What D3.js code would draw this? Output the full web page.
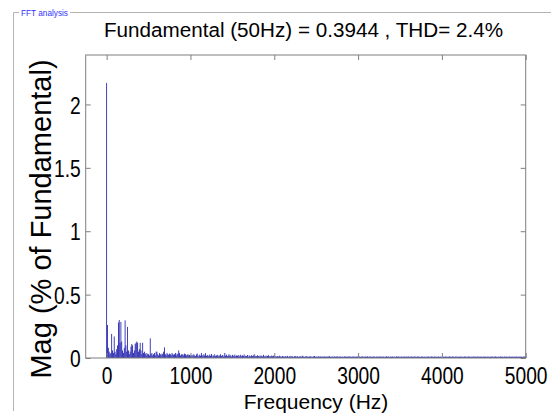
<!DOCTYPE html>
<html><head><meta charset="utf-8">
<script src="https://cdn.jsdelivr.net/npm/d3@7"></script>
<style>
body{margin:0;background:#fff}
svg{display:block}
text{font-family:"Liberation Sans",Arial,Helvetica,sans-serif;fill:#000}
</style></head>
<body><svg id="c" width="554" height="416"></svg>
<script>
// ---- data ----
const titleText = "Fundamental (50Hz) = 0.3944 , THD= 2.4%";
const panelTitle = "FFT analysis";
const xLabel = "Frequency (Hz)";
const yLabel = "Mag (% of Fundamental)";
const xTicks = [0, 1000, 2000, 3000, 4000, 5000];
const yTicks = [0, 0.5, 1, 1.5, 2];
const yTickLabels = ["0", "0.5", "1", "1.5", "2"];
const freqStep = 10; // Hz between spectrum bins
// magnitude (% of fundamental), bins 0, 10, 20 ... 5000 Hz
const mag = [
 2.17,.26,.08,.05,.03,.04,.19,.06,.04,.17,
 .05,.03,.07,.10,.28,.30,.12,.285,.13,.06,
 .04,.08,.297,.10,.05,.245,.06,.03,.05,.09,
 .11,.10,.04,.06,.11,.12,.13,.12,.05,.07,
 .12,.06,.03,.12,.04,.05,.03,.04,.02,.035,
 .03,.02,.155,.03,.04,.02,.03,.04,.02,.05,
 .05,.03,.02,.04,.03,.02,.035,.03,.05,.084,
 .03,.02,.04,.03,.025,.035,.03,.02,.04,.03,
 .025,.03,.04,.02,.035,.03,.06,.04,.02,.03,
 .025,.03,.02,.035,.03,.02,.025,.03,.02,.025,
 .02,
 .018,.025,.012,.03,.02,.015,.028,.035,.02,.012,.026,.018,.04,.022,.015,.03,.02,.038,.016,.024,
 .02,.014,.027,.018,.032,.012,.022,.017,.029,.015,.02,.025,.013,.021,.018,.03,.016,.024,.012,.02,
 .04,.018,.026,.014,.02,.03,.016,.022,.012,.025,.019,.015,.027,.013,.02,.017,.023,.011,.019,.026,
 .014,.021,.016,.028,.012,.018,.015,.024,.01,.02,.017,.013,.022,.015,.019,.03,.012,.018,.014,.021,
 .016,.011,.02,.014,.018,.012,.025,.015,.01,.019,.013,.017,.022,.012,.016,.011,.02,.014,.018,.013,
 .012,.016,.01,.015,.012,.018,.011,.014,.009,.016,.012,.01,.015,.013,.011,.017,.009,.013,.012,.015,
 .011,.014,.009,.013,.016,.01,.012,.015,.009,.011,.014,.01,.013,.018,.011,.009,.012,.015,.01,.013,
 .009,.012,.014,.01,.011,.009,.013,.016,.01,.012,.009,.011,.014,.01,.012,.009,.013,.011,.01,.012,
 .011,.009,.013,.01,.012,.015,.009,.011,.01,.013,.009,.012,.01,.011,.014,.009,.01,.012,.011,.009,
 .012,.01,.009,.013,.011,.01,.012,.009,.014,.01,.011,.009,.012,.01,.013,.009,.011,.01,.012,.009,
 .01,.012,.009,.011,.013,.01,.009,.012,.011,.01,.014,.009,.011,.01,.012,.009,.01,.013,.01,.011,
 .009,.011,.01,.012,.009,.013,.01,.011,.009,.012,.01,.009,.011,.013,.01,.012,.009,.01,.011,.01,
 .012,.009,.011,.01,.009,.013,.01,.012,.011,.009,.01,.012,.009,.011,.01,.013,.009,.011,.01,.012,
 .01,.009,.012,.011,.01,.009,.013,.01,.011,.009,.012,.01,.011,.009,.01,.012,.011,.009,.01,.011,
 .009,.011,.01,.012,.009,.01,.011,.013,.01,.009,.012,.01,.011,.009,.01,.012,.009,.011,.01,.009,
 .011,.01,.009,.012,.01,.011,.009,.01,.012,.011,.009,.01,.013,.01,.009,.011,.01,.012,.009,.01,
 .01,.012,.009,.011,.01,.009,.012,.01,.011,.009,.01,.012,.011,.009,.01,.011,.009,.012,.01,.011,
 .009,.01,.012,.011,.009,.01,.011,.01,.009,.012,.01,.011,.009,.01,.012,.01,.009,.011,.01,.012,
 .01,.009,.011,.012,.01,.009,.01,.011,.009,.012,.01,.011,.01,.009,.012,.01,.011,.009,.01,.011,
 .012,.009,.01,.011,.01,.009,.012,.01,.011,.009,.01,.012,.009,.011,.01,.009,.011,.01,.012,.01
];
const bins = mag.map((v, i) => ({f: i * freqStep, v}));

// ---- layout ----
const svg = d3.select("#c");
const L = 85.7, R = 525.7, T = 55, B = 358;
const x = d3.scaleLinear().domain([-250, 5000]).range([L, R]);
const y = d3.scaleLinear().domain([0, 2.39]).range([B, T]);

svg.append("rect").attr("width", 554).attr("height", 416).attr("fill", "#fff");

// panel frame
const frame = "#b4b4b4";
svg.append("line").attr("x1", 13.5).attr("x2", 13.5).attr("y1", 12.5).attr("y2", 411).attr("stroke", frame);
svg.append("line").attr("x1", 13.5).attr("x2", 19).attr("y1", 12.5).attr("y2", 12.5).attr("stroke", frame);
svg.append("line").attr("x1", 70).attr("x2", 551).attr("y1", 12.5).attr("y2", 12.5).attr("stroke", frame);
svg.append("text").attr("x", 21).attr("y", 15.5).attr("textLength", 47).attr("lengthAdjust", "spacingAndGlyphs")
  .style("font-size", "9px").style("fill", "#3333ff").text(panelTitle);

// bars
svg.append("g").selectAll("rect").data(bins).join("rect")
  .attr("x", d => x(d.f) - 0.4)
  .attr("width", 0.8)
  .attr("y", d => y(d.v))
  .attr("height", d => y(0) - y(d.v))
  .attr("fill", "#1414aa");

// axes (MATLAB style: box, inward ticks)
const axCol = "#7f7f7f";
const gx = svg.append("g").attr("transform", `translate(0,${B})`)
  .call(d3.axisBottom(x).tickValues(xTicks).tickSizeInner(-5).tickSizeOuter(0).tickFormat(d3.format("d")).tickPadding(0));
const gxt = svg.append("g").attr("transform", `translate(0,${T})`)
  .call(d3.axisTop(x).tickValues(xTicks).tickSizeInner(-5).tickSizeOuter(0).tickFormat(""));
const gy = svg.append("g").attr("transform", `translate(${L},0)`)
  .call(d3.axisLeft(y).tickValues(yTicks).tickSizeInner(-5).tickSizeOuter(0).tickFormat((d, i) => yTickLabels[i]).tickPadding(0));
const gyr = svg.append("g").attr("transform", `translate(${R},0)`)
  .call(d3.axisRight(y).tickValues(yTicks).tickSizeInner(-5).tickSizeOuter(0).tickFormat(""));
[gx, gxt, gy, gyr].forEach(g => {
  g.select(".domain").remove();
  g.selectAll(".tick line").attr("stroke", axCol);
});
svg.append("rect").attr("x", L).attr("y", T).attr("width", R - L).attr("height", B - T)
  .attr("fill", "none").attr("stroke", axCol);

// tick labels: tall, narrow glyphs as in the reference
gx.selectAll(".tick text").attr("font-family", null).attr("font-size", null)
  .attr("y", null).attr("dy", null)
  .attr("transform", "translate(0,25.5) scale(0.8,1)").style("font-size", "24px");
gy.selectAll(".tick text").attr("font-family", null).attr("font-size", null)
  .attr("x", null).attr("dy", "0.36em")
  .attr("transform", "translate(-5,0) scale(0.8,1)").style("font-size", "24px");

// titles
svg.append("text").attr("x", 303.5).attr("y", 36.7).attr("text-anchor", "middle")
  .attr("textLength", 399).attr("lengthAdjust", "spacingAndGlyphs").style("font-size", "19.5px").text(titleText);
svg.append("text").attr("x", 316).attr("y", 409).attr("text-anchor", "middle").style("font-size", "21px").text(xLabel);
svg.append("text").attr("transform", "translate(51,219) rotate(-90)").attr("text-anchor", "middle").style("font-size", "29px").text(yLabel);
</script></body></html>
